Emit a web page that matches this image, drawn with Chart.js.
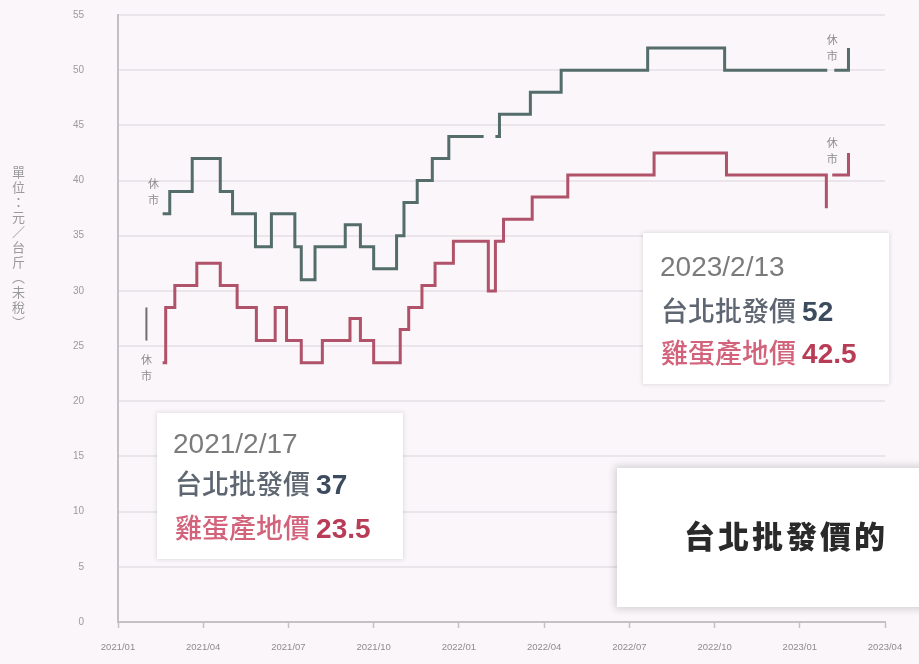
<!DOCTYPE html>
<html>
<head>
<meta charset="utf-8">
<script src="https://cdn.jsdelivr.net/npm/chart.js@4.4.1/dist/chart.umd.min.js"></script>
<style>
  html, body { margin: 0; padding: 0; background: #faf6f9; }
  #marco { position: relative; width: 919px; height: 664px; overflow: hidden; background: #faf6f9; }
  #grafica { position: absolute; left: 0; top: 0; }
  .unidad { position: absolute; left: 9px; top: 166px; writing-mode: vertical-rl; font: 13px "Noto Sans CJK TC"; letter-spacing: 2px; color: #9a9a9a; }
  .caja { position: absolute; background: #fff; box-shadow: 0 0 4px 1px rgba(0,0,0,0.10); }
  .caja div { position: absolute; white-space: nowrap; line-height: 30px; }
  .fecha { font: 28px "Liberation Sans", Arial, sans-serif; color: #7b7b7b; }
  .linea { font: 500 27px "Noto Sans CJK TC"; }
  .linea b { font: bold 28px "Liberation Sans", Arial, sans-serif; }
  .taipei { color: #5e6671; }
  .taipei b { color: #3d4b5f; }
  .huevo { color: #d2637b; }
  .huevo b { color: #b83c55; }
  .titulo { font: 900 31px "Noto Sans CJK TC"; color: #2a2a2a; letter-spacing: 3px; line-height: 40px !important; }
</style>
</head>
<body>
<div id="marco">
  <canvas id="grafica" width="919" height="664"></canvas>
  <div class="unidad">單位：元／台斤（未稅）</div>

  <div class="caja" style="left:157px; top:413px; width:246px; height:146px;">
    <div class="fecha" style="left:16px; top:16px;">2021/2/17</div>
    <div class="linea taipei" style="left:18px; top:55px;">台北批發價 <b>37</b></div>
    <div class="linea huevo" style="left:18px; top:99px;">雞蛋產地價 <b>23.5</b></div>
  </div>

  <div class="caja" style="left:643px; top:233px; width:246px; height:151px;">
    <div class="fecha" style="left:17px; top:19px;">2023/2/13</div>
    <div class="linea taipei" style="left:18px; top:62px;">台北批發價 <b>52</b></div>
    <div class="linea huevo" style="left:18px; top:104px;">雞蛋產地價 <b>42.5</b></div>
  </div>

  <div class="caja" style="left:617px; top:468px; width:330px; height:139px; box-shadow:0 0 8px 2px rgba(0,0,0,0.16);">
    <div class="titulo" style="left:67px; top:47px;">台北批發價的</div>
  </div>
</div>

<script>
// etiquetas del eje x (cada 3 meses desde 2021/01)
const etiquetasX = ["2021/01","2021/04","2021/07","2021/10","2022/01","2022/04","2022/07","2022/10","2023/01","2023/04"];

// 台北批發價: fecha del cambio y nuevo precio (null = 休市)
const fechasTaipei = ["2021/02/17","2021/02/24","2021/03/20","2021/04/19","2021/05/02","2021/05/27","2021/06/13",
    "2021/07/08","2021/07/15","2021/07/30","2021/09/01","2021/09/17","2021/10/01","2021/10/26","2021/11/03",
    "2021/11/17","2021/12/03","2021/12/21","2022/01/28","2022/01/29","2022/02/09","2022/02/13","2022/03/17",
    "2022/04/19","2022/07/21","2022/10/12","2023/01/31","2023/02/01","2023/02/07","2023/02/21"];
const preciosTaipei = [37,39,42,39,37,34,37,34,31,34,36,34,32,35,38,40,42,44,44,null,44,46,48,50,52,50,50,null,50,52];

// 雞蛋產地價
const fechasHuevo = ["2021/02/17","2021/02/20","2021/03/01","2021/03/25","2021/04/19","2021/05/07","2021/05/28",
    "2021/06/17","2021/06/29","2021/07/15","2021/08/07","2021/09/06","2021/09/17","2021/10/01","2021/10/30",
    "2021/11/08","2021/11/22","2021/12/06","2021/12/26","2022/02/02","2022/02/09","2022/02/17","2022/03/19",
    "2022/04/26","2022/07/28","2022/10/14","2023/01/30","2023/01/31","2023/02/05","2023/02/21"];
const preciosHuevo = [23.5,28.5,30.5,32.5,30.5,28.5,25.5,28.5,25.5,23.5,25.5,27.5,25.5,23.5,26.5,28.5,30.5,32.5,34.5,
    30,34.5,36.5,38.5,40.5,42.5,40.5,37.5,null,40.5,42.5];

// notas "休市"
const fechasCierre = ["2021/02/08","2021/02/01","2023/02/05","2023/02/05"];
const valoresCierre = [39, 23, 52, 42.7];
const textoCierre = "休市";

// marca vertical del cierre (precio de huevo)
const fechasMarca = ["2021/02/01"];
const desdeMarca = [28.5];
const hastaMarca = [25.5];

function aMes(fecha){
    let p = fecha.split("/").map(Number);
    let dias = new Date(p[0], p[1], 0).getDate();
    return (p[0] - 2021) * 12 + (p[1] - 1) + (p[2] - 1) / dias;
}

function armarPuntos(fechas, valores){
    return fechas.map((f, i) => ({ x: aMes(f), y: valores[i] }));
}

const notasCierre = {
    id: "notasCierre",
    afterDatasetsDraw(chart){
        const ctx = chart.ctx;
        const ex = chart.scales.x;
        const ey = chart.scales.y;
        ctx.save();

        ctx.strokeStyle = "#6e6e6e";
        ctx.lineWidth = 2;
        for(let i = 0; i < fechasMarca.length; i++){
            let px = ex.getPixelForValue(aMes(fechasMarca[i]));
            ctx.beginPath();
            ctx.moveTo(px, ey.getPixelForValue(desdeMarca[i]));
            ctx.lineTo(px, ey.getPixelForValue(hastaMarca[i]));
            ctx.stroke();
        }

        ctx.fillStyle = "#8e8e8e";
        ctx.font = '11px "Noto Sans CJK TC"';
        ctx.textAlign = "center";
        ctx.textBaseline = "middle";
        for(let i = 0; i < fechasCierre.length; i++){
            let px = ex.getPixelForValue(aMes(fechasCierre[i]));
            let py = ey.getPixelForValue(valoresCierre[i]);
            ctx.fillText(textoCierre[0], px, py - 8);
            ctx.fillText(textoCierre[1], px, py + 8);
        }
        ctx.restore();
    }
};

const ctx = document.getElementById("grafica").getContext("2d");

new Chart(ctx, {
    type: "line",
    data: {
        datasets: [
            {
                label: "台北批發價",
                data: armarPuntos(fechasTaipei, preciosTaipei),
                borderColor: "#546d6b",
                borderWidth: 3,
                stepped: "before",
                pointRadius: 0,
                spanGaps: false,
                fill: false
            },
            {
                label: "雞蛋產地價",
                data: armarPuntos(fechasHuevo, preciosHuevo),
                borderColor: "#b0536a",
                borderWidth: 3,
                stepped: "before",
                pointRadius: 0,
                spanGaps: false,
                fill: false
            }
        ]
    },
    options: {
        responsive: false,
        animation: false,
        layout: { padding: { top: 15, right: 34, left: 0, bottom: 0 } },
        plugins: {
            legend: { display: false },
            tooltip: { enabled: false }
        },
        scales: {
            x: {
                type: "linear",
                min: 0,
                max: 27,
                afterFit: (s) => { s.height = 42; },
                afterBuildTicks: (s) => { s.ticks = etiquetasX.map((e, i) => ({ value: i * 3 })); },
                grid: { drawOnChartArea: false, drawTicks: true, tickLength: 6, tickColor: "#c4c0c4", tickWidth: 1.5 },
                border: { color: "#c4c0c4", width: 2 },
                ticks: {
                    autoSkip: false,
                    maxRotation: 0,
                    padding: 14,
                    color: "#8e8c8e",
                    font: { family: "Liberation Sans", size: 9.5 },
                    callback: (v) => etiquetasX[Math.round(v / 3)]
                }
            },
            y: {
                min: 0,
                max: 55,
                afterFit: (s) => { s.width = 118; s.paddingTop = 0; s.paddingBottom = 0; },
                grid: { color: "#ebe4ea", lineWidth: 2, drawTicks: false },
                border: { color: "#c4c0c4", width: 2 },
                ticks: {
                    stepSize: 5,
                    padding: 34,
                    color: "#9c9a9c",
                    font: { family: "Liberation Sans", size: 10 }
                }
            }
        }
    },
    plugins: [notasCierre]
});
</script>
</body>
</html>
